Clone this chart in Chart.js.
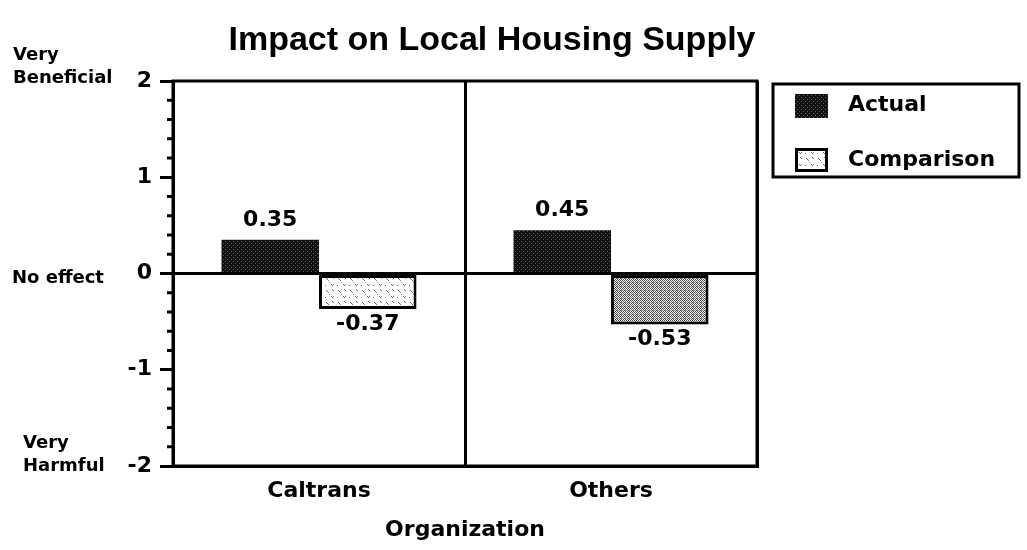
<!DOCTYPE html>
<html>
<head>
<meta charset="utf-8">
<script src="https://cdn.jsdelivr.net/npm/chart.js@4"></script>
<style>
html,body{margin:0;padding:0;background:#fff}
</style>
</head>
<body>
<canvas id="c" width="1027" height="550"></canvas>
<script>
var categories = ['Caltrans', 'Others']
var seriesNames = ['Actual', 'Comparison']
var actualValues = [0.35, 0.45]
var comparisonValues = [-0.37, -0.53]
var yTicks = [-2, -1, 0, 1, 2]
var chartTitle = 'Impact on Local Housing Supply'
var xTitle = 'Organization'
var topLabel = ['Very', 'Beneficial']
var midLabel = 'No effect'
var bottomLabel = ['Very', 'Harmful']

Chart.defaults.font.family = '"DejaVu Sans"'
Chart.defaults.font.weight = 'bold'
Chart.defaults.color = '#000'

var canvas = document.getElementById('c')
var ctx0 = canvas.getContext('2d')

// small stipple textures to mimic the scanned fills
function makePattern(size, base, dots){
    var c = document.createElement('canvas')
    c.width = size; c.height = size
    var g = c.getContext('2d')
    g.fillStyle = base
    g.fillRect(0, 0, size, size)
    dots.forEach(function(d){
        g.fillStyle = d[2]
        g.fillRect(d[0], d[1], 1, 1)
    })
    return ctx0.createPattern(c, 'repeat')
}
var darkFill = makePattern(4, '#111', [[1,1,'#6a6a6a'],[3,3,'#555']])
var lightFill = makePattern(12, '#fff', [
    [2,2,'#666'],[3,3,'#666'],[4,4,'#777'],[8,1,'#666'],[9,2,'#777'],
    [7,8,'#666'],[8,9,'#666'],[9,8,'#777'],[1,9,'#888'],[5,6,'#888']])
var midFill = makePattern(4, '#fff', [
    [0,0,'#444'],[2,0,'#444'],[1,1,'#666'],[3,1,'#444'],
    [0,2,'#444'],[2,2,'#777'],[1,3,'#444'],[3,3,'#444'],[1,2,'#999']])

var decor = {
    id: 'decor',
    afterDatasetsDraw: function(chart){
        var ctx = chart.ctx
        ctx.save()
        ctx.fillStyle = '#000'
        ctx.font = 'bold 22px "DejaVu Sans"'
        ctx.textAlign = 'center'
        ctx.textBaseline = 'middle'
        chart.data.datasets.forEach(function(ds, i){
            chart.getDatasetMeta(i).data.forEach(function(el, j){
                var v = ds.data[j]
                var ty = v >= 0 ? el.y - 20 : el.y + 15
                ctx.fillText(v.toFixed(2), el.x, ty)
            })
        })
        ctx.restore()
    },
    afterDraw: function(chart){
        var ctx = chart.ctx, a = chart.chartArea, y = chart.scales.y
        ctx.save()
        ctx.strokeStyle = '#000'
        ctx.lineWidth = 3
        ctx.strokeRect(a.left, a.top, a.right - a.left, a.bottom - a.top)
        // minor ticks every 0.2
        for(var i = -10; i <= 10; i++){
            if(i % 5 === 0) continue
            var py = y.getPixelForValue(i / 5)
            ctx.beginPath()
            ctx.moveTo(a.left - 6, py)
            ctx.lineTo(a.left, py)
            ctx.stroke()
        }
        ctx.fillStyle = '#000'
        ctx.textAlign = 'center'
        ctx.textBaseline = 'alphabetic'
        ctx.font = 'bold 34px "Liberation Sans"'
        ctx.fillText(chartTitle, 492, 50)

        ctx.textAlign = 'left'
        ctx.textBaseline = 'middle'
        ctx.font = 'bold 18px "DejaVu Sans"'
        ctx.fillText(topLabel[0], 13, 55)
        ctx.fillText(topLabel[1], 13, 78)
        ctx.fillText(midLabel, 12, 278)
        ctx.fillText(bottomLabel[0], 23, 443)
        ctx.fillText(bottomLabel[1], 23, 466)

        // legend box
        ctx.lineWidth = 3
        ctx.strokeRect(773, 84, 246, 93)
        ctx.fillStyle = darkFill
        ctx.fillRect(795, 94, 33, 24)
        ctx.fillStyle = lightFill
        ctx.fillRect(795, 148, 33, 24)
        ctx.strokeRect(796.5, 149.5, 30, 21)
        ctx.fillStyle = '#000'
        ctx.font = 'bold 22px "DejaVu Sans"'
        ctx.fillText(seriesNames[0], 848, 105)
        ctx.fillText(seriesNames[1], 848, 160)
        ctx.restore()
    }
}

new Chart(canvas, {
    type: 'bar',
    data: {
        labels: categories,
        datasets: [
            {label: seriesNames[0], data: actualValues, backgroundColor: darkFill, borderWidth: 0},
            {label: seriesNames[1], data: comparisonValues, backgroundColor: [lightFill, midFill],
             borderColor: '#000', borderWidth: 3, borderSkipped: false}
        ]
    },
    options: {
        responsive: false,
        animation: false,
        categoryPercentage: 0.668,
        barPercentage: 1,
        layout: {padding: {top: 81, right: 270, left: 0, bottom: 0}},
        plugins: {
            legend: {display: false},
            title: {display: false},
            tooltip: {enabled: false}
        },
        scales: {
            x: {
                afterFit: function(s){ s.height = 84 },
                grid: {offset: true, color: '#000', lineWidth: 3, drawTicks: false},
                border: {color: '#000', width: 3},
                ticks: {font: {size: 22}, padding: 12},
                title: {display: true, text: xTitle, font: {size: 22}, padding: {top: 0, bottom: 7}}
            },
            y: {
                min: -2, max: 2,
                afterFit: function(s){ s.width = 173 },
                afterBuildTicks: function(s){ s.ticks = yTicks.map(function(v){ return {value: v} }) },
                grid: {
                    color: function(c){ return c.tick && c.tick.value === 0 ? '#000' : 'rgba(0,0,0,0)' },
                    tickColor: '#000', lineWidth: 3, tickLength: 13
                },
                border: {color: '#000', width: 3},
                ticks: {font: {size: 22}, padding: 8}
            }
        }
    },
    plugins: [decor]
})
</script>
</body>
</html>
